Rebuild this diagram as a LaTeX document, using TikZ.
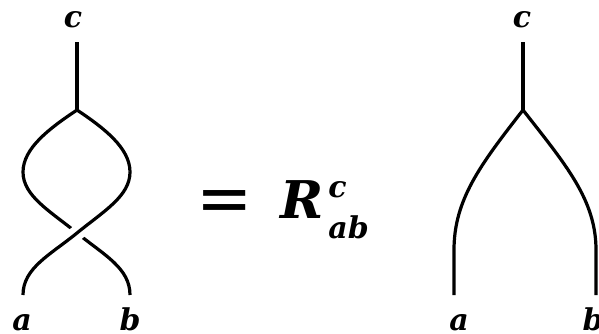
\documentclass[tikz,border=0pt]{standalone}
\usepackage{fontspec}
\setmainfont{DejaVu Serif}
\newfontfamily\eqfont{DejaVu Sans}
\begin{document}
\begin{tikzpicture}[x=1pt,y=-1pt,
  strand/.style={line width=3.2pt,line cap=butt},
  lbl/.style={inner sep=0pt,anchor=base,font=\fontsize{30}{30}\selectfont\bfseries\itshape},
]
\useasboundingbox (0,0) rectangle (599,333);
% left diagram
\node[lbl] (lc) at (73,27) {c};
\node[lbl] (la) at (22,330) {a};
\node[lbl] (lb) at (130,330) {b};
\coordinate (ltop) at (77,42);
\coordinate (lv) at (77,110);
\coordinate (lL) at (23,172);
\coordinate (lR) at (130,172);
\coordinate (lx) at (77,233);
\coordinate (lea) at (23,295);
\coordinate (leb) at (130,295);
\draw[strand] (ltop) -- (lv);
% under strand: vertex -> left bulge -> b
\draw[strand] (lv) .. controls (50,128) and (23,148) .. (lL)
  .. controls (23,196) and (50,211) .. (lx)
  .. controls (104,255) and (130,268) .. (leb);
% over strand: vertex -> right bulge -> a
\draw[strand] (lv) .. controls (104,128) and (130,148) .. (lR);
\draw[strand,preaction={draw=white,line width=15pt}] (lR)
  .. controls (130,196) and (104,211) .. (lx)
  .. controls (50,255) and (23,268) .. (lea);
% equation
\node[inner sep=0pt,anchor=base] (eq) at (225,222)
  {\eqfont\fontsize{64}{64}\selectfont\scalebox{1.05}[1.1]{=}};
\node[inner sep=0pt,anchor=base west] (R) at (280,218)
  {\fontsize{52}{52}\selectfont\bfseries\itshape R\kern5pt
   \fontsize{30}{38}\selectfont\raisebox{-20pt}{\shortstack[l]{c\\[14pt]ab}}};
% right diagram
\node[lbl] (rc) at (522,27) {c};
\node[lbl] (ra) at (459,330) {a};
\node[lbl] (rb) at (593,330) {b};
\coordinate (rtop) at (523,42);
\coordinate (rv) at (523,110);
\coordinate (rea) at (454,295);
\coordinate (reb) at (596,295);
\draw[strand] (rtop) -- (rv);
\draw[strand] (rv) .. controls (480,165) and (454,200) .. (454,250) -- (rea);
\draw[strand] (rv) .. controls (566,165) and (596,200) .. (596,250) -- (reb);
\end{tikzpicture}
\end{document}
